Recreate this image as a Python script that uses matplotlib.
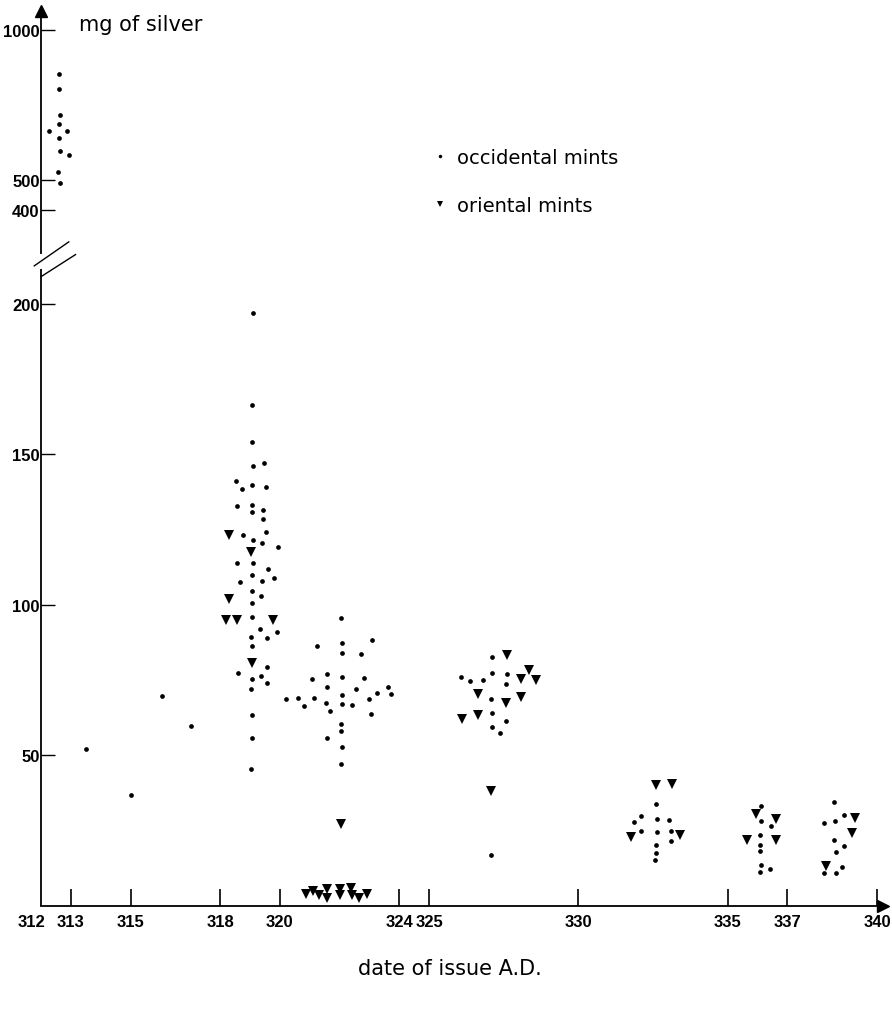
import numpy as np
import matplotlib
matplotlib.use("Agg")
import matplotlib.pyplot as plt
from matplotlib.lines import Line2D
from matplotlib.transforms import ScaledTranslation

plt.rcParams['font.family'] = ['Liberation Sans', 'DejaVu Sans']

# occidental mints (dots): date of issue, mg of silver
occ_year = [312.61, 312.6, 312.62, 312.59, 312.28, 312.88, 312.59, 312.62, 312.94, 312.58, 312.63,
            313.52, 315.01, 316.04, 317.04,
            319.11, 319.06, 319.07, 319.09, 319.48, 318.53, 318.73, 319.07, 319.53, 318.56,
            319.07, 319.08, 319.42, 319.42, 318.76, 319.55, 319.09, 319.39, 319.95, 318.57,
            319.09, 319.6, 319.06, 318.66, 319.4, 319.82, 319.08, 319.37, 319.06, 319.06,
            319.34, 319.9, 319.04, 319.58, 319.06, 319.56, 318.59, 319.05, 319.36, 319.56,
            319.03, 319.05, 319.05, 319.04,
            322.05, 322.07, 323.09, 321.25, 322.08, 322.72, 321.58, 321.09, 322.07, 322.82,
            321.57, 322.56, 323.62, 323.71, 323.24, 320.2, 320.6, 320.82, 321.14, 321.56,
            322.07, 322.07, 322.41, 322.97, 321.68, 323.06, 322.06, 322.06, 321.58, 322.08,
            322.05,
            327.11, 327.09, 327.6, 326.08, 326.38, 326.8, 327.59, 327.08, 327.09, 327.59,
            327.09, 327.36, 327.06,
            332.61, 332.08, 331.87, 332.62, 333.03, 332.1, 332.64, 333.11, 333.1, 332.6,
            332.59, 332.56,
            336.1, 336.1, 336.45, 336.07, 336.08, 336.07, 336.1, 336.4, 336.08,
            338.56, 338.24, 338.59, 338.9, 338.56, 338.88, 338.61, 338.82, 338.23, 338.62]
occ_mg = [853, 803, 716, 686, 664, 664, 639, 598, 583, 526, 489,
          52.0, 36.9, 69.6, 59.8,
          197, 166.3, 154.3, 146, 147.1, 141.3, 138.4, 139.8, 139.3, 132.8,
          133.3, 131, 131.7, 128.4, 123.3, 124.1, 121.7, 120.5, 119.3, 113.8,
          113.9, 112, 109.9, 107.7, 108.1, 108.9, 104.7, 103.1, 100.7, 95.9,
          92.1, 91.1, 89.5, 89, 86.5, 79.3, 77.4, 75.3, 76.5, 74.2,
          72.1, 63.4, 55.9, 45.4,
          95.8, 87.5, 88.3, 86.5, 84.1, 83.7, 77.1, 75.4, 76.2, 75.8,
          72.6, 72, 72.9, 70.4, 70.9, 68.9, 69, 66.5, 69.2, 67.6,
          70.2, 67.1, 66.8, 68.6, 64.8, 63.8, 60.6, 58.2, 55.9, 52.8,
          47.1,
          82.6, 77.5, 77.1, 76, 74.9, 75, 73.9, 68.8, 64.1, 61.4,
          59.6, 57.6, 16.8,
          34, 29.8, 27.9, 28.8, 28.7, 25, 24.7, 24.9, 21.5, 20.4,
          17.7, 15.4,
          33.2, 28.4, 26.5, 23.5, 20.1, 18.2, 13.6, 12.2, 11.2,
          34.5, 27.5, 28.4, 30.3, 22, 19.8, 17.8, 13.1, 10.8, 11]

# oriental mints (triangles)
ori_year = [318.3, 319.04, 318.31, 318.2, 318.58, 319.76, 319.06,
            322.06, 320.88, 321.12, 321.3, 321.57, 321.57, 322.01, 322.02, 322.38, 322.41,
            322.66, 322.91,
            327.62, 328.36, 328.09, 328.59, 326.62, 327.59, 328.09, 326.1, 326.62, 327.08,
            332.6, 333.13, 331.76, 333.4,
            335.93, 336.62, 335.63, 336.6,
            339.26, 339.16, 338.28]
ori_mg = [123.3, 117.6, 102, 95, 95.1, 95.1, 80.7,
          27.2, 4.1, 4.9, 3.8, 5.5, 2.7, 5.7, 3.8, 6.0, 3.8,
          2.7, 4.1,
          83.3, 78.3, 75.5, 75.2, 70.4, 67.4, 69.3, 62.1, 63.3, 38.2,
          40.3, 40.4, 22.8, 23.7,
          30.4, 29, 22, 22,
          29.3, 24.3, 13.3]

x_ticks = [312, 313, 315, 318, 320, 324, 325, 330, 335, 337, 340]
y_ticks = [50, 100, 150, 200, 400, 500, 1000]

# broken y axis: 0-200 wide, 200-400 squeezed, 400-1000 compressed
brk_v = [-100, 0, 200, 400, 1200]
brk_p = [-300, 0, 602, 696, 936]


def fwd(v):
    return np.interp(v, brk_v, brk_p)


def inv(p):
    return np.interp(p, brk_p, brk_v)


fig = plt.figure(figsize=(8.92, 10.12), dpi=100)
ax = fig.add_axes([41 / 892, 105 / 1012, 842 / 892, 895 / 1012])
ax.set_yscale('function', functions=(fwd, inv))
ax.set_xlim(312, 340.2)
ax.set_ylim(0, 1063)

ax.plot(occ_year, occ_mg, 'o', color='k', ms=3.4, mew=0, clip_on=False)
ax.plot(ori_year, ori_mg, 'v', color='k', ms=6.5, mew=0, clip_on=False)

# axes with arrows and the break
for s in ['top', 'right', 'left']:
    ax.spines[s].set_visible(False)
ax.spines['bottom'].set_linewidth(1.3)
ax.vlines([312, 312], [0, 306], [274, 1063], colors='k', lw=1.3, clip_on=False)
ax.plot([1], [0], '>', color='k', ms=9, transform=ax.get_yaxis_transform(), clip_on=False)
ax.plot([312], [1], '^', color='k', ms=9, transform=ax.get_xaxis_transform(), clip_on=False)
ax.plot([-0.008, 0.033], [281, 332], color='k', lw=1.0, transform=ax.get_yaxis_transform(), clip_on=False)
ax.plot([0.0, 0.041], [258, 305], color='k', lw=1.0, transform=ax.get_yaxis_transform(), clip_on=False)

ax.set_xticks(x_ticks)
ax.set_xticklabels([str(t) for t in x_ticks])
ax.set_yticks(y_ticks)
ax.set_yticklabels([str(t) for t in y_ticks])
ax.yaxis.set_minor_locator(plt.NullLocator())
ax.tick_params(axis='x', direction='in', length=12, width=1.2, pad=6, labelsize=12)
ax.tick_params(axis='y', direction='in', length=10, width=1.0, pad=1, labelsize=12)
for lab in ax.get_xticklabels() + ax.get_yticklabels():
    lab.set_fontweight('bold')
ax.xaxis.get_major_ticks()[0].tick1line.set_visible(False)
lab0 = ax.get_xticklabels()[0]
lab0.set_transform(lab0.get_transform() + ScaledTranslation(-7 / 72, 0, fig.dpi_scale_trans))

fig.text(79 / 892, 1 - 31 / 1012, 'mg of silver', family='DejaVu Sans', fontsize=15, va='baseline')
fig.text(450 / 892, 1 - 975 / 1012, 'date of issue A.D.', family='DejaVu Sans', fontsize=15,
         ha='center', va='baseline')

handles = [Line2D([], [], marker='o', ls='none', color='k', ms=2.5, mew=0, label='occidental mints'),
           Line2D([], [], marker='v', ls='none', color='k', ms=5, mew=0, label='oriental mints')]
ax.legend(handles=handles, loc='upper left', bbox_to_anchor=(435 / 892, 1 - 149 / 1012),
          bbox_transform=fig.transFigure, frameon=False, handlelength=0.5, handletextpad=0.65,
          labelspacing=1.5, borderpad=0, borderaxespad=0, prop={'family': 'DejaVu Sans', 'size': 14})

fig.savefig('out.png', dpi=100, facecolor='white')
